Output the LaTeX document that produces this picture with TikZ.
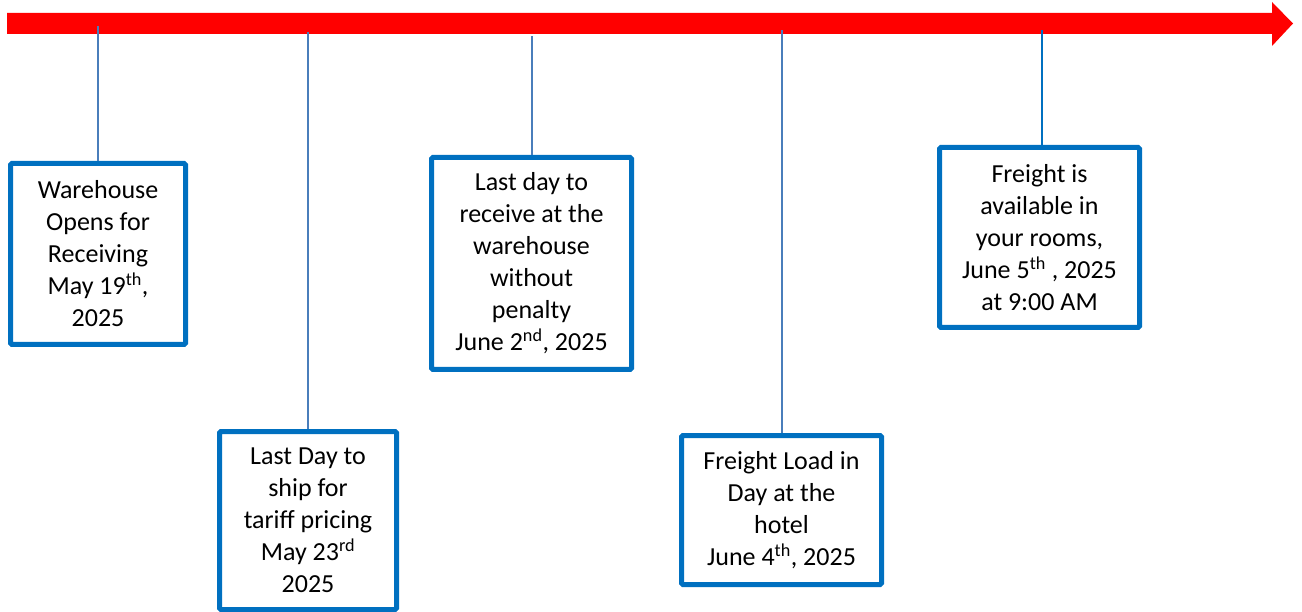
\documentclass[tikz,border=0pt]{standalone}
\usepackage{fontspec}
\setmainfont{Carlito}
\definecolor{boxblue}{HTML}{0070C0}
\definecolor{linkblue}{HTML}{4A7EBB}
\begin{document}
\begin{tikzpicture}[x=1pt,y=-1pt,
  evbox/.style={draw=boxblue, line width=5pt, fill=white, rounded corners=1.5pt,
    inner sep=0pt, align=center, font=\fontsize{26}{32}\selectfont},
  link/.style={draw=linkblue, line width=1.6pt}]
\useasboundingbox (0,0) rectangle (1302,612);
% timeline arrow
\fill[red] (7,13) -- (1272,13) -- (1272,2) -- (1293,23.5) -- (1272,46) -- (1272,34) -- (7,34) -- cycle;
% anchor points on the timeline
\coordinate (t1) at (98,26);
\coordinate (t2) at (308,32);
\coordinate (t3) at (532,36);
\coordinate (t4) at (782,30);
\coordinate (t5) at (1042,30);
% boxes
\node[evbox, minimum width=175pt, minimum height=181pt] (b1) at (98,254)
  {Warehouse\\Opens for\\Receiving\\May 19\textsuperscript{th},\\2025};
\node[evbox, minimum width=177pt, minimum height=178pt] (b2) at (308,520.5)
  {Last Day to\\ship for\\tariff pricing\\May 23\textsuperscript{rd}\\2025};
\node[evbox, minimum width=200pt, minimum height=212pt] (b3) at (531.5,263.5)
  {Last day to\\receive at the\\warehouse\\without\\penalty\\June 2\textsuperscript{nd}, 2025};
\node[evbox, minimum width=200pt, minimum height=149pt] (b4) at (781.5,510)
  {Freight Load in\\Day at the\\hotel\\June 4\textsuperscript{th}, 2025};
\node[evbox, minimum width=200pt, minimum height=180pt] (b5) at (1039.5,237.5)
  {Freight is\\available in\\your rooms,\\June 5\textsuperscript{th} , 2025\\at 9:00 AM};
% connectors
\draw[link] (t1) -- (t1 |- b1.north);
\draw[link] (t2) -- (t2 |- b2.north);
\draw[link] (t3) -- (t3 |- b3.north);
\draw[link] (t4) -- (t4 |- b4.north);
\draw[link, draw=boxblue] (t5) -- (t5 |- b5.north);
\end{tikzpicture}
\end{document}
